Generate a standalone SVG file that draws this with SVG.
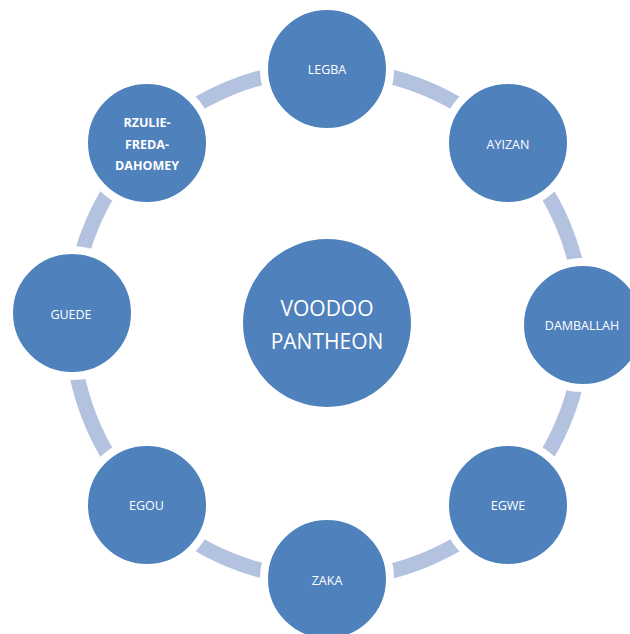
<svg xmlns="http://www.w3.org/2000/svg" width="630" height="634" viewBox="0 0 630 634">
<style>
.node{fill:#4F81BD;stroke:#FFFFFF;stroke-width:8}
.hub{fill:#4F81BD;stroke:#FFFFFF;stroke-width:2}
.conn{fill:none;stroke:#B3C2DE;stroke-width:15}
.t{font-family:"Open Sans","Noto Sans","DejaVu Sans",sans-serif;font-size:12.5px;fill:#FFFFFF;text-anchor:middle}
.b{font-weight:bold;font-size:12.5px}
.big{font-size:21px}
</style>
<rect width="630" height="634" fill="#FFFFFF"/>
<g id="connectors">
<path class="conn" d="M327,69 A256,256 0 0 1 508,143"/>
<path class="conn" d="M508,143 A256,256 0 0 1 583,325"/>
<path class="conn" d="M583,325 A256,256 0 0 1 508,505"/>
<path class="conn" d="M508,505 A256,256 0 0 1 327,579"/>
<path class="conn" d="M327,579 A256,256 0 0 1 147,505"/>
<path class="conn" d="M147,505 A256,256 0 0 1 72,313"/>
<path class="conn" d="M72,313 A256,256 0 0 1 147,143"/>
<path class="conn" d="M147,143 A256,256 0 0 1 327,69"/>
</g>
<g id="hub"><circle class="hub" cx="327" cy="323" r="85"/>
<text class="t big" x="327" y="316">VOODOO</text><text class="t big" x="327" y="349">PANTHEON</text></g>
<g id="legba"><circle class="node" cx="327" cy="69" r="63"/><text class="t" x="327" y="74">LEGBA</text></g>
<g id="ayizan"><circle class="node" cx="508" cy="143" r="63"/><text class="t" x="508" y="149">AYIZAN</text></g>
<g id="damballah"><circle class="node" cx="583" cy="325" r="63"/><text class="t" x="582" y="330">DAMBALLAH</text></g>
<g id="egwe"><circle class="node" cx="508" cy="505" r="63"/><text class="t" x="508" y="510">EGWE</text></g>
<g id="zaka"><circle class="node" cx="327" cy="579" r="63"/><text class="t" x="327" y="585">ZAKA</text></g>
<g id="egou"><circle class="node" cx="147" cy="505" r="63"/><text class="t" x="146.5" y="510">EGOU</text></g>
<g id="guede"><circle class="node" cx="72" cy="313" r="63"/><text class="t" x="71" y="319">GUEDE</text></g>
<g id="rzulie"><circle class="node" cx="147" cy="143" r="63"/>
<text class="t b" x="147" y="127">RZULIE-</text><text class="t b" x="147" y="149">FREDA-</text><text class="t b" x="147" y="170">DAHOMEY</text></g>
</svg>
